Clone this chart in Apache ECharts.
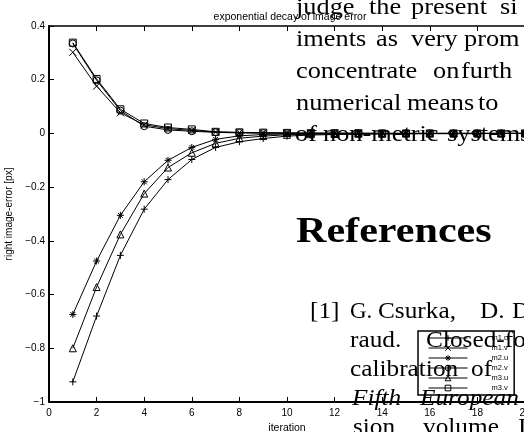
<!DOCTYPE html>
<html><head><meta charset="utf-8">
<script src="https://cdn.jsdelivr.net/npm/echarts@6/dist/echarts.min.js"></script>
<style>html,body{margin:0;padding:0;background:#fff}#c{width:524px;height:432px}</style>
</head><body><div id="c"></div>
<script>
// ---- data ----
const iterations = [1,2,3,4,5,6,7,8,9,10,11,12,13,14,15,16,17,18,19,20];
const m1u = [-0.925,-0.68,-0.454,-0.282,-0.172,-0.097,-0.052,-0.031,-0.019,-0.010,-0.006,-0.004,-0.003,-0.002,-0.002,-0.001,-0.001,-0.001,0,0];
const m1v = [0.302,0.176,0.077,0.032,0.018,0.011,0.005,0.003,0.002,0.001,0.001,0.001,0,0,0,0,0,0,0,0];
const m2u = [-0.674,-0.475,-0.305,-0.180,-0.100,-0.052,-0.022,-0.009,-0.004,-0.002,-0.001,-0.001,0,0,0,0,0,0,0,0];
const m2v = [0.335,0.198,0.085,0.027,0.013,0.008,0.004,0.002,0.001,0.001,0,0,0,0,0,0,0,0,0,0];
const m3u = [-0.800,-0.572,-0.376,-0.224,-0.127,-0.072,-0.037,-0.018,-0.010,-0.005,-0.003,-0.002,-0.001,-0.001,0,0,0,0,0,0];
const m3v = [0.338,0.203,0.090,0.037,0.022,0.015,0.006,0.004,0.003,0.002,0.001,0.001,0.001,0,0,0,0,0,0,0];
const seriesNames = ['m1.u','m1.v','m2.u','m2.v','m3.u','m3.v'];
const xTickLabels = ['0','2','4','6','8','10','12','14','16','18','20'];
const yTickLabels = ['−1','−0.8','−0.6','−0.4','−0.2','0','0.2','0.4'];
const chartTitle = 'exponential decay of image error';
const xName = 'iteration';
const yName = 'right image-error [px]';

// background page text (paper overlay)
const bodyWords = [
  ['judge',296,16],['the',369,16],['present',411,16],['si',500,16],
  ['iments',296,48],['as',376,48],['very',411,48],['prom',464,48],
  ['concentrate',296,80],['on',433,80],['furth',461,80],
  ['numerical',296,112],['means',407,112],['to',478,112],
  ['of',295,143],['non-metric',323,143],['systems',447,143]
];
const bibWords = [
  ['[1]',310,320,'normal'],['G.',350,320,'normal'],['Csurka,',378,320,'normal'],['D.',480,320,'normal'],['Demirdjian',512,320,'normal'],
  ['raud.',350,349,'normal'],['Closed-form',426,349,'normal'],
  ['calibration',350,378,'normal'],['of',471,378,'normal'],
  ['Fifth',352,407,'italic'],['European',420,407,'italic'],
  ['sion,',353,436,'normal'],['volume',423,436,'normal'],['I',518,436,'normal']
];
const heading = ['References',296,245];

// ---- chart ----
const symbols = {
  'm1.u':'path://M0,-1L0,1M-1,0L1,0',
  'm1.v':'path://M-1,-1L1,1M-1,1L1,-1',
  'm2.u':'path://M0,-1L0,1M-1,0L1,0M-0.7,-0.7L0.7,0.7M-0.7,0.7L0.7,-0.7',
  'm2.v':'circle',
  'm3.u':'triangle',
  'm3.v':'rect'
};
const values = {'m1.u':m1u,'m1.v':m1v,'m2.u':m2u,'m2.v':m2v,'m3.u':m3u,'m3.v':m3v};

function yLabel(v){
  const idx = Math.round((v + 1) / 0.2);
  return yTickLabels[idx] !== undefined ? yTickLabels[idx] : '';
}
function xLabel(v){
  const idx = Math.round(v / 2);
  return xTickLabels[idx] !== undefined ? xTickLabels[idx] : '';
}

const serif = '"Liberation Serif", "Times New Roman", serif';
const graphics = [];
function addWord(str, x, base, fs, weight, style, sx){
  graphics.push({type:'text', z:100, x:x, y:base - 0.346*fs, scaleX:sx||1, scaleY:1,
    style:{text:str, fill:'#000', font:(style||'normal')+' '+(weight||'normal')+' '+fs+'px '+serif,
      verticalAlign:'middle', align:'left'}});
}
bodyWords.forEach(w=>addWord(w[0],w[1],w[2],23.5,'normal','normal',1.12));
addWord(heading[0],heading[1],heading[2],36,'bold','normal',1.17);
bibWords.forEach(w=>addWord(w[0],w[1],w[2],23,'normal',w[3],w[0]==='G.'?1.0:1.1));

const sans = '"Liberation Sans", Arial, sans-serif';
const chart = echarts.init(document.getElementById('c'), null, {renderer:'canvas'});
chart.setOption({
  animation:false,
  backgroundColor:'#fff',
  title:{text:chartTitle, left:285, top:7, textAlign:'center',
    textStyle:{fontFamily:sans, fontSize:10.5, fontWeight:'normal', color:'#000'}},
  grid:{left:49, top:26, width:476, height:376, containLabel:false, outerBoundsMode:'none'},
  legend:{orient:'vertical', left:418, top:331, backgroundColor:'#fff', borderColor:'#000', borderWidth:1.5,
    padding:[3,6,3,10], itemWidth:39, itemHeight:7, itemGap:2,
    data:seriesNames,
    itemStyle:{color:'rgba(0,0,0,0)', borderColor:'#000', borderWidth:1},
    lineStyle:{color:'#000', width:1},
    textStyle:{fontFamily:sans, fontSize:7.5, color:'#000', padding:[0,0,0,19]}},
  xAxis:[
    {type:'value', min:0, max:20, interval:2, position:'bottom',
     name:xName, nameLocation:'middle', nameGap:18,
     nameTextStyle:{fontFamily:sans, fontSize:10.5, color:'#000'},
     axisLine:{show:true, onZero:false, lineStyle:{color:'#000', width:2}},
     axisTick:{show:true, inside:true, length:5, lineStyle:{color:'#000', width:1}},
     axisLabel:{formatter:xLabel, margin:6, fontFamily:sans, fontSize:10, color:'#000', hideOverlap:false},
     splitLine:{show:false}},
    {type:'value', min:0, max:20, interval:2, position:'top',
     axisLine:{show:true, onZero:false, lineStyle:{color:'#000', width:1.5}},
     axisTick:{show:true, inside:true, length:5, lineStyle:{color:'#000', width:1}},
     axisLabel:{show:false}, splitLine:{show:false}}
  ],
  yAxis:{type:'value', min:-1, max:0.4, interval:0.2,
    name:yName, nameLocation:'middle', nameGap:31, nameRotate:90,
    nameTextStyle:{fontFamily:sans, fontSize:10, color:'#000'},
    axisLine:{show:true, onZero:false, lineStyle:{color:'#000', width:2}},
    axisTick:{show:true, inside:true, length:5, lineStyle:{color:'#000', width:1}},
    axisLabel:{formatter:yLabel, margin:4, fontFamily:sans, fontSize:10, color:'#000'},
    splitLine:{show:false}},
  series: seriesNames.map(n=>({
    name:n, type:'line', xAxisIndex:0,
    data: iterations.map((x,i)=>[x, values[n][i]]),
    symbol:symbols[n], symbolSize:7, showAllSymbol:true,
    lineStyle:{color:'#000', width:1},
    itemStyle:{color:'rgba(0,0,0,0)', borderColor:'#000', borderWidth:1},
    z:2
  })),
  graphic: graphics
});
</script></body></html>
